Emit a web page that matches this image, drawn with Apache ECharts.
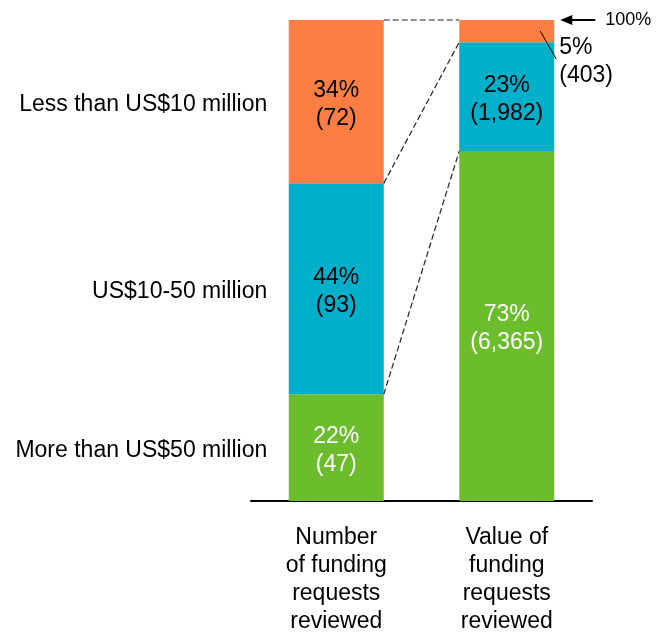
<!DOCTYPE html>
<html>
<head>
<meta charset="utf-8">
<script src="https://cdn.jsdelivr.net/npm/echarts@6/dist/echarts.min.js"></script>
<style>
  html, body { margin: 0; padding: 0; background: #fff; }
  #chart { width: 657px; height: 636px; }
</style>
</head>
<body>
<div id="chart"></div>
<script>
// size bands, bottom to top of each bar
const sizeBands = ["More than US$50 million", "US$10-50 million", "Less than US$10 million"];
const measures = ["Number\nof funding\nrequests\nreviewed", "Value of\nfunding\nrequests\nreviewed"];
const requestCounts = [47, 93, 72];       // number of funding requests
const requestValues = [6365, 1982, 403];  // value of funding requests (US$ million)

const bandColors = ["#6BBD2B", "#00AFCA", "#FD7E43"];
const bandTextColors = ["#ffffff", "#000000", "#000000"];
const FONT = "Liberation Sans, Arial, sans-serif";
const BAR_W = 95;

const sum = (a) => a.reduce((s, v) => s + v, 0);
const toShares = (a) => a.map((v) => (v / sum(a)) * 100);
const leftShares = toShares(requestCounts);
const rightShares = toShares(requestValues);
const cumulative = (a) => a.map((_, i) => sum(a.slice(0, i + 1)));
const leftCum = cumulative(leftShares);
const rightCum = cumulative(rightShares);

const barSeries = sizeBands.map((band, i) => ({
  name: band,
  type: "bar",
  stack: "total",
  barWidth: BAR_W,
  itemStyle: { color: bandColors[i] },
  label: {
    show: true,
    position: "inside",
    offset: [0, 3],
    color: bandTextColors[i],
    fontFamily: FONT,
    fontSize: 23,
    lineHeight: 28,
  },
  data: [
    { value: leftShares[i], raw: requestCounts[i] },
    // the smallest value slice is labelled outside the bar
    i === 2
      ? { value: rightShares[i], raw: requestValues[i],
          label: { position: "right", distance: 5, offset: [0, 31], color: "#000" } }
      : { value: rightShares[i], raw: requestValues[i] },
  ],
}));
barSeries.forEach((s) => {
  s.label.formatter = (p) =>
    Math.round(p.value) + "%\n(" + p.data.raw.toLocaleString("en-US") + ")";
});

// band names beside the left bar
const nameSeries = {
  type: "scatter",
  symbolSize: 0,
  silent: true,
  itemStyle: { opacity: 1 },
  label: {
    show: true,
    position: "left",
    distance: 69,
    offset: [0, 3],
    color: "#000",
    fontFamily: FONT,
    fontSize: 23,
    formatter: (p) => sizeBands[p.dataIndex],
  },
  data: sizeBands.map((_, i) => [0, leftCum[i] - leftShares[i] / 2]),
  z: 5,
};

// dashed connectors between matching band edges
const connectorData = [[100, 100], [leftCum[1], rightCum[1]], [leftCum[0], rightCum[0]]];
const connectorSeries = {
  type: "custom",
  silent: true,
  data: connectorData,
  renderItem: (params, api) => {
    const a = api.coord([0, api.value(0)]);
    const b = api.coord([1, api.value(1)]);
    return {
      type: "line",
      shape: { x1: a[0] + BAR_W / 2, y1: a[1], x2: b[0] - BAR_W / 2, y2: b[1] },
      style: { stroke: "#222", lineWidth: 1.2, lineDash: [6, 3] },
    };
  },
  z: 4,
};

// "100%" arrow and leader for the small slice
const noteSeries = {
  type: "custom",
  silent: true,
  data: [[1, 100]],
  renderItem: (params, api) => {
    const top = api.coord([1, 100]);
    const mid = api.coord([1, rightCum[2] - rightShares[2] / 2]);
    const edge = top[0] + BAR_W / 2;
    return {
      type: "group",
      children: [
        { type: "line", shape: { x1: edge + 14, y1: top[1], x2: edge + 41, y2: top[1] },
          style: { stroke: "#000", lineWidth: 2 } },
        { type: "polygon",
          shape: { points: [[edge + 6, top[1]], [edge + 18, top[1] - 5], [edge + 18, top[1] + 5]] },
          style: { fill: "#000" } },
        { type: "text",
          style: { x: edge + 51, y: top[1], text: "100%", fill: "#000", font: "18px " + FONT,
                   verticalAlign: "middle", align: "left" } },
        { type: "line", shape: { x1: edge - 14, y1: mid[1], x2: edge + 2, y2: mid[1] + 28 },
          style: { stroke: "#000", lineWidth: 1 } },
      ],
    };
  },
  z: 6,
};

const chart = echarts.init(document.getElementById("chart"));
chart.setOption({
  animation: false,
  backgroundColor: "#fff",
  grid: { left: 251, right: 65, top: 20, bottom: 131 },
  xAxis: {
    type: "category",
    data: measures,
    axisLine: { lineStyle: { color: "#000", width: 2 } },
    axisTick: { show: false },
    axisLabel: { color: "#000", fontFamily: FONT, fontSize: 23, lineHeight: 28, margin: 23, interval: 0 },
  },
  yAxis: { type: "value", min: 0, max: 100, show: false },
  series: [...barSeries, nameSeries, connectorSeries, noteSeries],
});
</script>
</body>
</html>
